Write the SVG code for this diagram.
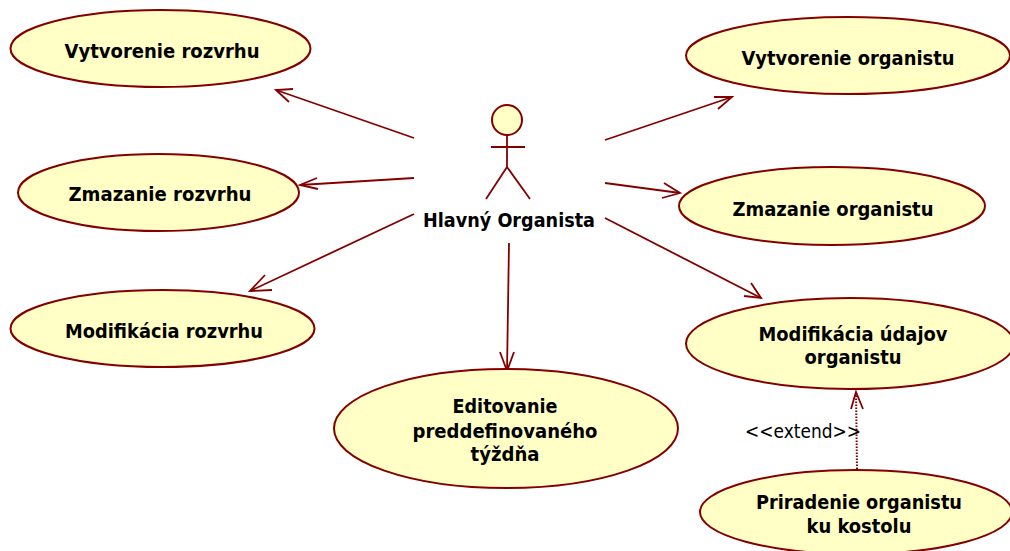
<svg xmlns="http://www.w3.org/2000/svg" width="1010" height="551" viewBox="0 0 1010 551">
<style>
.n{fill:#ffffc6;stroke:#840000;stroke-width:2}
.l{fill:none;stroke:#840000;stroke-width:1.8}
.a{fill:none;stroke:#840000;stroke-width:1.8}
.d{fill:none;stroke:#840000;stroke-width:2;stroke-dasharray:1.5 1.5}
text{font-family:"DejaVu Sans",Verdana,sans-serif;font-size:19px;font-weight:bold;fill:#000;text-anchor:middle}
.s{font-weight:normal;font-size:19px;fill:#000}
</style>
<rect width="1010" height="551" fill="#fff"/>
<g id="connectors">
<path class="l" d="M414 138L276 90"/>
<path class="a" d="M293 89L276 90L289 102"/>
<path class="l" d="M414 178L300 185"/>
<path class="a" d="M317 178L300 185L318 189"/>
<path class="l" d="M414 214L250 291"/>
<path class="a" d="M265 275L250 291L272 290"/>
<path class="l" d="M509 243L507 371"/>
<path class="a" d="M500 352L507 371L514 352"/>
<path class="l" d="M605 140L732 97"/>
<path class="a" d="M714 97L732 97L718 109"/>
<path class="l" d="M605 183L680 193"/>
<path class="a" d="M664 183L680 193L662 198"/>
<path class="l" d="M605 218L761 298"/>
<path class="a" d="M744 296L761 298L751 283"/>
<path class="d" d="M857 469L856 392"/>
<path class="a" d="M851 409L856 392L863 409"/>
</g>
<g id="actor">
<circle class="n" cx="507" cy="120" r="15"/>
<path class="l" d="M507 136V167M491 147H525M507 167L486 199M507 167L530 199"/>
<text x="509" y="227" textLength="172" lengthAdjust="spacingAndGlyphs">Hlavný Organista</text>
</g>
<g id="uc1"><ellipse class="n" cx="160.500" cy="48.500" rx="150" ry="38.500"/><text x="162" y="58" textLength="195" lengthAdjust="spacingAndGlyphs">Vytvorenie rozvrhu</text></g>
<g id="uc2"><ellipse class="n" cx="158.500" cy="192.500" rx="140.500" ry="38.500"/><text x="160" y="201" textLength="183" lengthAdjust="spacingAndGlyphs">Zmazanie rozvrhu</text></g>
<g id="uc3"><ellipse class="n" cx="162.500" cy="328.500" rx="152" ry="38.500"/><text x="164" y="338" textLength="198" lengthAdjust="spacingAndGlyphs">Modifikácia rozvrhu</text></g>
<g id="uc4"><ellipse class="n" cx="506" cy="428.500" rx="172" ry="59.500"/><text x="505" y="413" textLength="105" lengthAdjust="spacingAndGlyphs">Editovanie</text><text x="505" y="438" textLength="185" lengthAdjust="spacingAndGlyphs">preddefinovaného</text><text x="505" y="461" textLength="69" lengthAdjust="spacingAndGlyphs">týždňa</text></g>
<g id="uc5"><ellipse class="n" cx="848" cy="55.500" rx="162" ry="38.500"/><text x="848" y="65" textLength="213" lengthAdjust="spacingAndGlyphs">Vytvorenie organistu</text></g>
<g id="uc6"><ellipse class="n" cx="832" cy="206" rx="153" ry="39"/><text x="833" y="216" textLength="201" lengthAdjust="spacingAndGlyphs">Zmazanie organistu</text></g>
<g id="uc7"><ellipse class="n" cx="850" cy="343.500" rx="164" ry="45.500"/><text x="853" y="341" textLength="189" lengthAdjust="spacingAndGlyphs">Modifikácia údajov</text><text x="853" y="364" textLength="97" lengthAdjust="spacingAndGlyphs">organistu</text></g>
<g id="uc8"><ellipse class="n" cx="856" cy="512" rx="156" ry="42"/><text x="859" y="509" textLength="206" lengthAdjust="spacingAndGlyphs">Priradenie organistu</text><text x="859" y="533" textLength="105" lengthAdjust="spacingAndGlyphs">ku kostolu</text></g>
<text class="s" x="803" y="438" textLength="116" lengthAdjust="spacingAndGlyphs">&lt;&lt;extend&gt;&gt;</text>
</svg>
